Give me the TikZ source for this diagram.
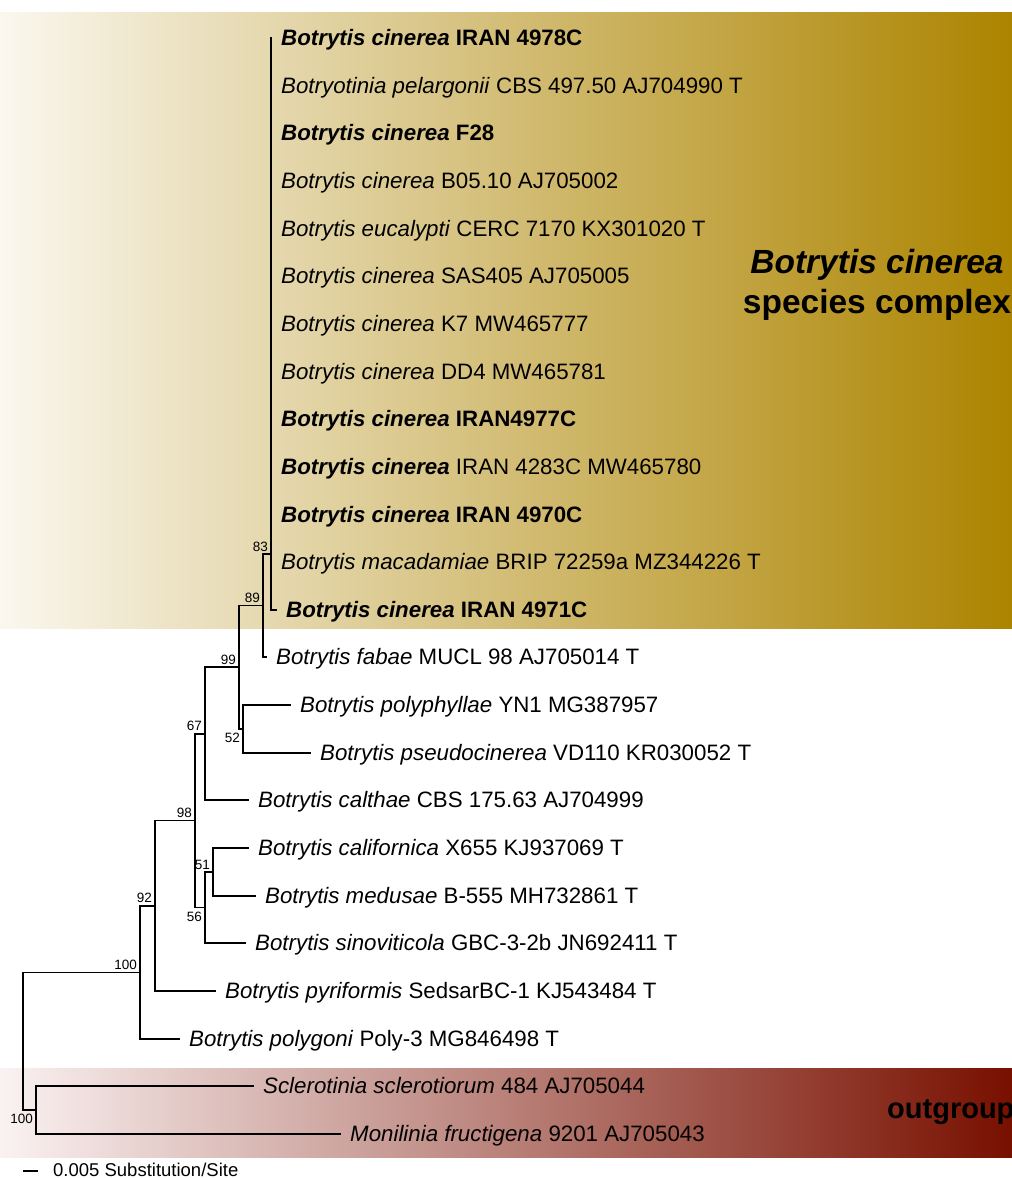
\documentclass[tikz,border=0pt]{standalone}
\usepackage{fontspec}
\setmainfont{Liberation Sans}
\usetikzlibrary{calc}
\definecolor{goldL}{RGB}{250,247,238}
\definecolor{goldR}{RGB}{172,132,0}
\definecolor{redL}{RGB}{250,242,242}
\definecolor{redR}{RGB}{120,16,0}

\begin{document}
\begin{tikzpicture}[x=1pt,y=-1pt,br/.style={line width=1.8pt,line
        cap=rect},tx/.style={anchor=west,inner xsep=10pt,inner ysep=0pt,text
        height=15.6pt,text depth=0pt,font=\fontsize{22.3}{26}\selectfont},
      bs/.style={inner sep=0pt,font=\fontsize{13.5}{16}\selectfont},
      bsup/.style={bs,anchor=south east,xshift=-3pt,yshift=2.5pt},
      bsdn/.style={bs,anchor=north east,xshift=-3pt,yshift=-4pt}]

    \useasboundingbox (0,0) rectangle (1012,1178);

    % the shaded boxes
    \shade[left color=goldL,right color=goldR] (0,12) rectangle (1012,628);
    \shade[left color=redL,right color=redR] (0,1068) rectangle (1012,1157);

    % the inner nodes
    \coordinate (n83) at (271,554);
    \coordinate (n89) at (263,605.5);
    \coordinate (n52) at (243,729);
    \coordinate (n99) at (239,667.2);
    \coordinate (n67) at (205,733.6);
    \coordinate (n51) at (213,872);
    \coordinate (n56) at (205,907.5);
    \coordinate (n98) at (195,820.5);
    \coordinate (n92) at (155,905.7);
    \coordinate (n100) at (140,972.4);
    \coordinate (nout) at (36,1110);
    \coordinate (root) at (23,1041.2);

    % the texts
    \node[tx] (l1) at (271,38) {\textbf{\textit{Botrytis cinerea} IRAN 4978C}};
    \node[tx] (l2) at (271,86) {\textit{Botryotinia pelargonii} CBS 497.50 AJ704990 T};
    \node[tx] (l3) at (271,133) {\textbf{\textit{Botrytis cinerea} F28}};
    \node[tx] (l4) at (271,181) {\textit{Botrytis cinerea} B05.10 AJ705002};
    \node[tx] (l5) at (271,229) {\textit{Botrytis eucalypti} CERC 7170 KX301020 T};
    \node[tx] (l6) at (271,276) {\textit{Botrytis cinerea} SAS405 AJ705005};
    \node[tx] (l7) at (271,324) {\textit{Botrytis cinerea} K7 MW465777};
    \node[tx] (l8) at (271,372) {\textit{Botrytis cinerea} DD4 MW465781};
    \node[tx] (l9) at (271,419) {\textbf{\textit{Botrytis cinerea} IRAN4977C}};
    \node[tx] (l10) at (271,467) {\textbf{\textit{Botrytis cinerea}} IRAN 4283C MW465780};
    \node[tx] (l11) at (271,515) {\textbf{\textit{Botrytis cinerea} IRAN 4970C}};
    \node[tx] (l12) at (271,562) {\textit{Botrytis macadamiae} BRIP 72259a MZ344226 T};
    \node[tx] (l13) at (276,610) {\textbf{\textit{Botrytis cinerea} IRAN 4971C}};
    \node[tx] (l14) at (266,657) {\textit{Botrytis fabae} MUCL 98 AJ705014 T};
    \node[tx] (l15) at (290,705) {\textit{Botrytis polyphyllae} YN1 MG387957};
    \node[tx] (l16) at (310,753) {\textit{Botrytis pseudocinerea} VD110 KR030052 T};
    \node[tx] (l17) at (248,800) {\textit{Botrytis calthae} CBS 175.63 AJ704999};
    \node[tx] (l18) at (248,848) {\textit{Botrytis californica} X655 KJ937069 T};
    \node[tx] (l19) at (255,896) {\textit{Botrytis medusae} B-555 MH732861 T};
    \node[tx] (l20) at (245,943) {\textit{Botrytis sinoviticola} GBC-3-2b JN692411 T};
    \node[tx] (l21) at (215,991) {\textit{Botrytis pyriformis} SedsarBC-1 KJ543484 T};
    \node[tx] (l22) at (179,1039) {\textit{Botrytis polygoni} Poly-3 MG846498 T};
    \node[tx] (l23) at (253,1086) {\textit{Sclerotinia sclerotiorum} 484 AJ705044};
    \node[tx] (l24) at (340,1134) {\textit{Monilinia fructigena} 9201 AJ705043};

    % the branches
    \draw[br] (n83) |- (l1.west) (n83) |- (l13.west);
    \draw[br] (n89) |- (n83) (n89) |- (l14.west);
    \draw[br] (n52) |- (l15.west) (n52) |- (l16.west);
    \draw[br] (n99) |- (n89) (n99) |- (n52);
    \draw[br] (n67) |- (n99) (n67) |- (l17.west);
    \draw[br] (n51) |- (l18.west) (n51) |- (l19.west);
    \draw[br] (n56) |- (n51) (n56) |- (l20.west);
    \draw[br] (n98) |- (n67) (n98) |- (n56);
    \draw[br] (n92) |- (n98) (n92) |- (l21.west);
    \draw[br] (n100) |- (n92) (n100) |- (l22.west);
    \draw[br] (nout) |- (l23.west) (nout) |- (l24.west);
    \draw[br] (root) |- (n100) (root) |- (nout);

    % bootstrap values
    \node[bsup] (b83) at (n83) {83};
    \node[bsup] (b89) at (n89) {89};
    \node[bsup] (b99) at (n99) {99};
    \node[bsdn] (b52) at (n52) {52};
    \node[bsup] (b67) at (n67) {67};
    \node[bsup] (b98) at (n98) {98};
    \node[bsup] (b51) at (n51) {51};
    \node[bsdn] (b56) at (n56) {56};
    \node[bsup] (b92) at (n92) {92};
    \node[bsup] (b100) at (n100) {100};
    \node[bsdn] (bout) at (nout) {100};

    % the groups
    \node[font=\fontsize{33.5}{39.5}\selectfont\bfseries,align=center] (cpx)
      at (877,285) {\textit{Botrytis cinerea}\\species complex};
    \node[font=\fontsize{29}{34}\selectfont\bfseries,anchor=west,inner
      sep=0pt] (og) at (887,1112) {outgroup};

    % scale bar
    \coordinate (s1) at (23,1171);
    \coordinate (s2) at (38,1171);
    \draw[line width=1.4pt] (s1) -- (s2);
    \node[anchor=west,inner sep=0pt,font=\fontsize{18.5}{22}\selectfont]
      (sc) at (53,1170) {0.005 Substitution/Site};

  \end{tikzpicture}
\end{document}
